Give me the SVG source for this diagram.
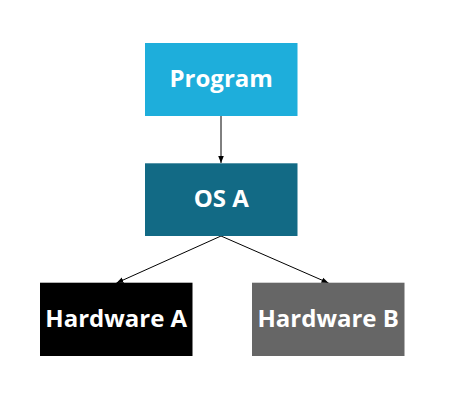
<svg xmlns="http://www.w3.org/2000/svg" width="455" height="403" viewBox="0 0 455 403">
<style>
.lbl{font-family:"Open Sans","Liberation Sans",sans-serif;font-weight:bold;font-size:24px;fill:#ffffff;text-anchor:middle}
.edge{stroke:#000000;stroke-width:1;fill:none}
</style>
<defs>
<marker id="arr" viewBox="0 0 10 10" refX="10" refY="5" markerWidth="7" markerHeight="7" markerUnits="userSpaceOnUse" orient="auto">
<path d="M0,1 L10,5 L0,9 z" fill="#000000"/>
</marker>
</defs>
<rect width="455" height="403" fill="#ffffff"/>
<g id="connectors">
<line class="edge" x1="221" y1="116" x2="221" y2="163" marker-end="url(#arr)"/>
<line class="edge" x1="221" y1="236" x2="116.5" y2="283" marker-end="url(#arr)"/>
<line class="edge" x1="221" y1="236" x2="328.5" y2="283" marker-end="url(#arr)"/>
</g>
<g id="program">
<rect x="145" y="43" width="152.5" height="73" fill="#1eaedb"/>
<text class="lbl" x="221.2" y="87">Program</text>
</g>
<g id="osa">
<rect x="145" y="163.3" width="152.5" height="72.7" fill="#126a85"/>
<text class="lbl" x="221.2" y="206.7">OS A</text>
</g>
<g id="hwa">
<rect x="40" y="282.7" width="152.5" height="73.3" fill="#000000"/>
<text class="lbl" x="116.2" y="326.7">Hardware A</text>
</g>
<g id="hwb">
<rect x="252" y="282.7" width="152.5" height="73.3" fill="#666666"/>
<text class="lbl" x="328.2" y="326.7">Hardware B</text>
</g>
</svg>
